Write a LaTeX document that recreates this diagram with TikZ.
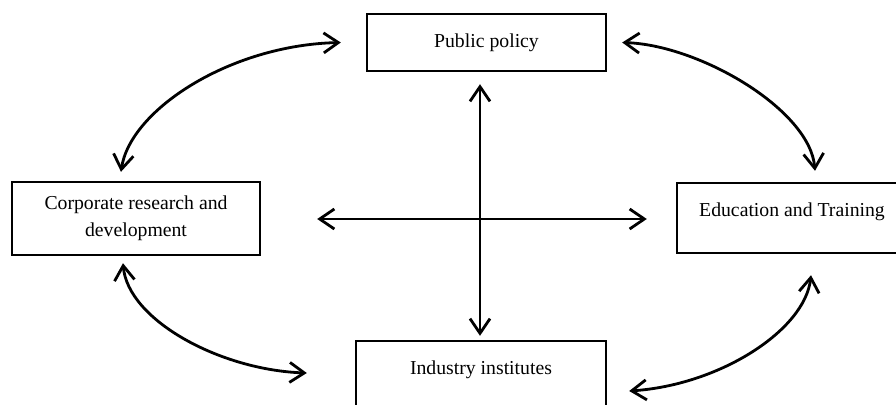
\documentclass[tikz,border=0pt]{standalone}
\usepackage{fontspec}
\setmainfont{Liberation Serif}
\usetikzlibrary{arrows.meta,calc}
\begin{document}
\begin{tikzpicture}[x=0.75pt,y=-0.75pt,
  box/.style={draw,line width=1.8pt,rectangle,inner sep=0pt,align=center,
    font=\fontsize{14.8}{20.5}\selectfont},
  link/.style={line width=2.1pt,{Straight Barb[length=11pt,width=15pt]}-{Straight Barb[length=11pt,width=15pt]}}]
\useasboundingbox (0,0) rectangle (896,404);
\clip (0,0) rectangle (896,404);
\node[box,minimum width=239*0.75pt,minimum height=57*0.75pt] (pp) at (486.5,42.5) {Public policy};
\node[box,minimum width=248*0.75pt,minimum height=73*0.75pt] (crd) at (136,218.5) {Corporate research and\\development};
\node[box,minimum width=230*0.75pt,minimum height=70*0.75pt,text height=10pt,text depth=13pt] (edu) at (792,218) {Education and Training};
\node[box,minimum width=250*0.75pt,minimum height=70*0.75pt,text height=10pt,text depth=13pt] (ind) at (481,376) {Industry institutes};
\draw[link] ($(pp.west)+(-25,0)$) .. controls (230,45) and (130,110) .. ($(crd.north)+(-15,-9)$);
\draw[link] ($(pp.east)+(15,0)$) .. controls (700,45) and (810,110) .. ($(edu.north)+(23,-11)$);
\draw[link] ($(crd.south)+(-13,7)$) .. controls (128,320) and (220,370) .. ($(ind.west)+(-48,-3)$);
\draw[link] ($(edu.south)+(19,21)$) .. controls (805,330) and (720,385) .. ($(ind.east)+(22,15)$);
\draw[link] ($(crd.east)+(56,0.5)$) -- ($(edu.west)+(-29,1)$);
\draw[link] ($(pp.south)+(-6.5,12)$) -- ($(ind.north)+(-1,-4)$);
\end{tikzpicture}
\end{document}
